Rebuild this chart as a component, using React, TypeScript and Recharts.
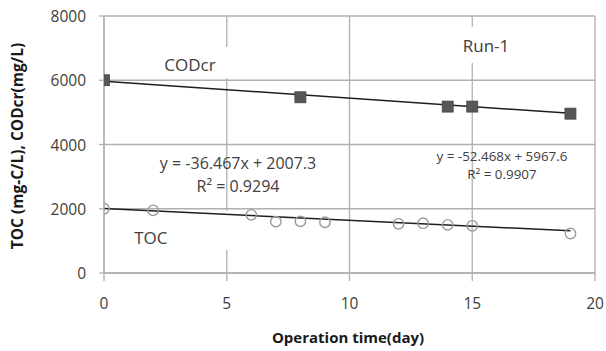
import React from 'react';
import {
  ComposedChart, Scatter, XAxis, YAxis, CartesianGrid, ReferenceLine, ReferenceDot, ReferenceArea, Label,
} from 'recharts';

// ---- data ----
const codDays = [0, 8, 14, 15, 19];
const codValues = [6000, 5470, 5180, 5180, 4960];
const tocDays = [0, 2, 6, 7, 8, 9, 12, 13, 14, 15, 19];
const tocValues = [2000, 1950, 1810, 1600, 1610, 1580, 1530, 1550, 1500, 1470, 1230];

const xTicks = [0, 5, 10, 15, 20];
const yTicks = [0, 2000, 4000, 6000, 8000];

// trendline coefficients (as printed on the chart)
const codSlope = -52.468;
const codIntercept = 5967.6;
const tocSlope = -36.467;
const tocIntercept = 2007.3;
const trendRange = [0, 19];

const codData = codDays.map((d, i) => ({ x: d, y: codValues[i] }));
const tocData = tocDays.map((d, i) => ({ x: d, y: tocValues[i] }));

const textColor = '#404040';
const gridColor = '#b0b0b0';
const sans = '"Open Sans", "Liberation Sans", sans-serif';

// annotation texts, anchored in data units
const annotations = [
  { text: 'CODcr', x: 3.5, y: 6475, size: 17 },
  { text: 'Run-1', x: 15.56, y: 7070, size: 17 },
  { text: 'TOC', x: 1.91, y: 1090, size: 17 },
  { text: 'y = -36.467x + 2007.3', x: 5.46, y: 3424, size: 16 },
  { text: 'R\u00b2 = 0.9294', x: 5.46, y: 2708, size: 16 },
  { text: 'y = -52.468x + 5967.6', x: 16.21, y: 3630, size: 13.4 },
  { text: 'R\u00b2 = 0.9907', x: 16.21, y: 3075, size: 13.4 },
];

// white text-box backgrounds of the labels (they hide the gridlines behind them)
const labelBoxes = [
  { x1: 1.87, x2: 5.21, y1: 6070, y2: 7035 },
  { x1: 0.65, x2: 5.21, y1: 716, y2: 1930 },
  { x1: 13.9, x2: 17.35, y1: 6537, y2: 7658 },
];

const Square = (props: any) => {
  const { cx, cy } = props;
  if (cx == null || cy == null) return null;
  const s = 11;
  return <rect x={cx - s / 2} y={cy - s / 2} width={s} height={s} fill="#575757" stroke="#454545" strokeWidth={0.8} />;
};

const Ring = (props: any) => {
  const { cx, cy } = props;
  if (cx == null || cy == null) return null;
  return <circle cx={cx} cy={cy} r={5.2} fill="none" stroke="#9a9a9a" strokeWidth={1.4} />;
};

const Y_TICK_TEXT_RIGHT = 86;

const YTick = (props: any) => {
  const { y, payload } = props;
  return (
    <text x={Y_TICK_TEXT_RIGHT} y={y} textAnchor="end" dominantBaseline="central" fill={textColor} fontSize={15.5} fontFamily={sans}>
      {payload.value}
    </text>
  );
};

const YLabel = () => (
  <text
    transform="translate(17, 146) rotate(-90)"
    textAnchor="middle"
    dominantBaseline="central"
    fontFamily={sans}
    fontWeight={700}
    fontSize={15.5}
    fill="#1a1a1a"
  >
    TOC (mg-C/L), CODcr(mg/L)
  </text>
);

const XLabel = () => (
  <text
    x={348}
    y={337}
    textAnchor="middle"
    dominantBaseline="central"
    fontFamily={sans}
    fontWeight={700}
    fontSize={15}
    fill="#1a1a1a"
  >
    Operation time(day)
  </text>
);

export default function App() {
  return (
    <div style={{ position: 'fixed', left: 0, top: 0, background: '#fff' }}>
      <ComposedChart
        width={606}
        height={351}
        margin={{ top: 16, right: 11, left: 44, bottom: 28 }}
      >
        <CartesianGrid stroke={gridColor} strokeWidth={1.3} horizontal vertical />
        {labelBoxes.map((b, i) => (
          <ReferenceArea key={i} x1={b.x1} x2={b.x2} y1={b.y1} y2={b.y2} fill="#ffffff" fillOpacity={1} stroke="none" />
        ))}
        <XAxis
          type="number"
          dataKey="x"
          domain={[0, 20]}
          ticks={xTicks}
          interval={0}
          allowDataOverflow
          height={50}
          axisLine={{ stroke: gridColor, strokeWidth: 1.3 }}
          tickLine={{ stroke: gridColor, strokeWidth: 1.3 }}
          tickSize={8}
          tickMargin={17}
          tick={{ fill: textColor, fontSize: 15.5, fontFamily: sans }}
        >
          <Label content={<XLabel />} />
        </XAxis>
        <YAxis
          type="number"
          dataKey="y"
          domain={[0, 8000]}
          ticks={yTicks}
          interval={0}
          width={60}
          axisLine={{ stroke: gridColor, strokeWidth: 1.3 }}
          tickLine={{ stroke: gridColor, strokeWidth: 1.3 }}
          tickSize={5}
          tick={<YTick />}
        >
          <Label content={<YLabel />} />
        </YAxis>
        <ReferenceLine
          segment={trendRange.map((d) => ({ x: d, y: codSlope * d + codIntercept }))}
          stroke="#1e1e1e"
          strokeWidth={1.5}
          ifOverflow="visible"
        />
        <ReferenceLine
          segment={trendRange.map((d) => ({ x: d, y: tocSlope * d + tocIntercept }))}
          stroke="#1e1e1e"
          strokeWidth={1.5}
          ifOverflow="visible"
        />
        <Scatter data={codData} dataKey="y" shape={<Square />} isAnimationActive={false} />
        <Scatter data={tocData} dataKey="y" shape={<Ring />} isAnimationActive={false} />
        {annotations.map((a) => (
          <ReferenceDot
            key={a.text}
            x={a.x}
            y={a.y}
            r={0}
            fill="none"
            stroke="none"
            ifOverflow="visible"
            label={{ value: a.text, position: 'center', fill: textColor, fontSize: a.size, fontFamily: sans }}
          />
        ))}
      </ComposedChart>
    </div>
  );
}
